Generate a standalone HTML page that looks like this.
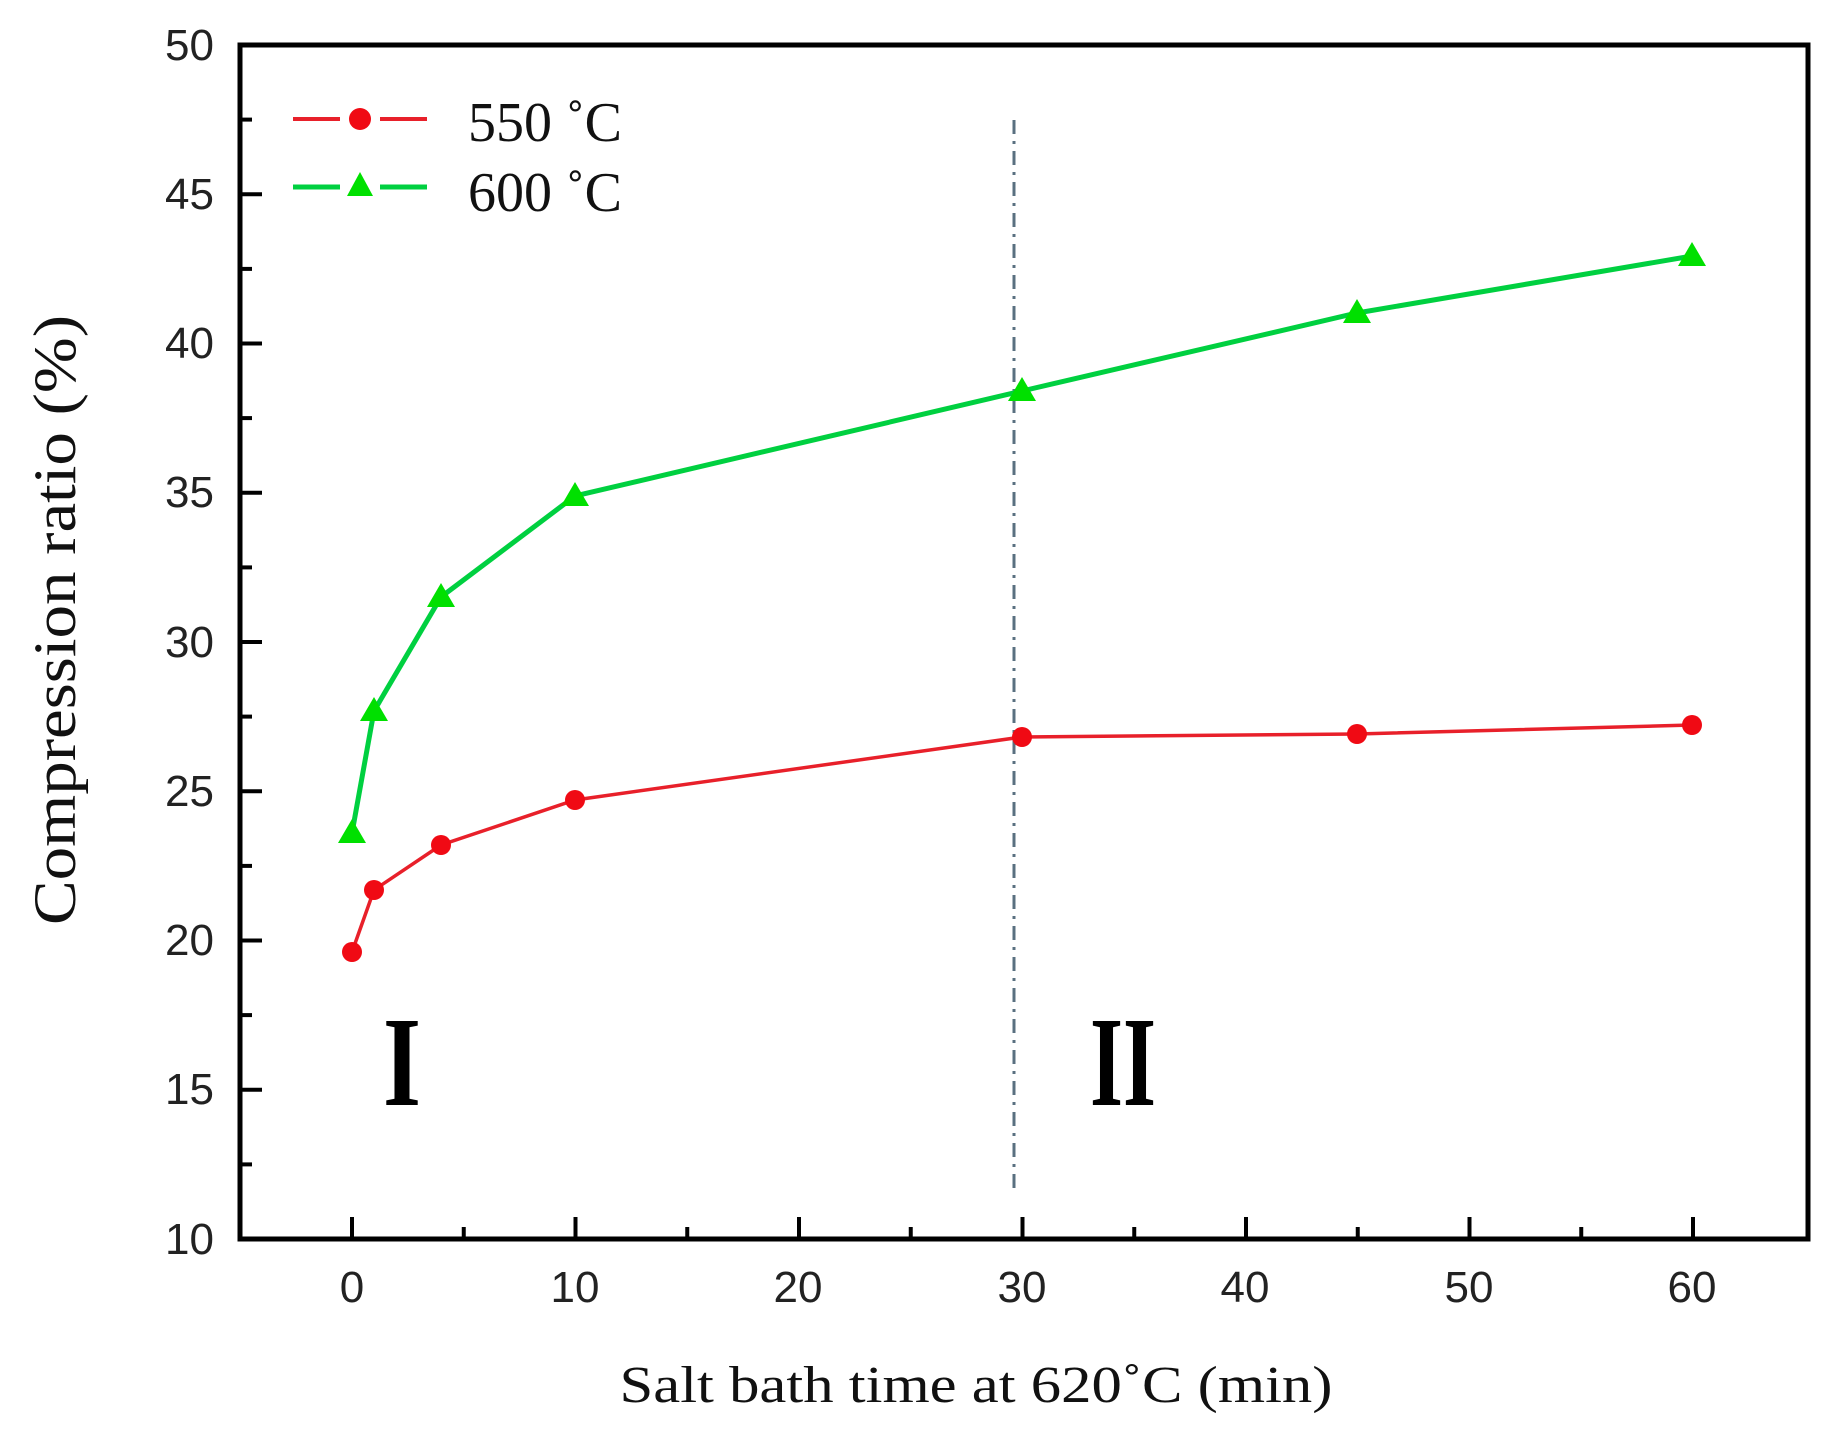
<!DOCTYPE html>
<html><head><meta charset="utf-8"><style>html,body{margin:0;padding:0;background:#fff}svg{display:block}</style></head>
<body>
<svg width="1839" height="1441" viewBox="0 0 1839 1441" xmlns="http://www.w3.org/2000/svg">
<rect width="1839" height="1441" fill="#fff"/>
<g stroke="#000" stroke-width="4">
<line x1="240" y1="1164.4" x2="252" y2="1164.4"/><line x1="240" y1="1089.8" x2="262" y2="1089.8"/>
<line x1="240" y1="1015.1" x2="252" y2="1015.1"/><line x1="240" y1="940.5" x2="262" y2="940.5"/>
<line x1="240" y1="865.9" x2="252" y2="865.9"/><line x1="240" y1="791.3" x2="262" y2="791.3"/>
<line x1="240" y1="716.6" x2="252" y2="716.6"/><line x1="240" y1="642" x2="262" y2="642"/>
<line x1="240" y1="567.4" x2="252" y2="567.4"/><line x1="240" y1="492.8" x2="262" y2="492.8"/>
<line x1="240" y1="418.1" x2="252" y2="418.1"/><line x1="240" y1="343.5" x2="262" y2="343.5"/>
<line x1="240" y1="268.9" x2="252" y2="268.9"/><line x1="240" y1="194.3" x2="262" y2="194.3"/>
<line x1="240" y1="119.6" x2="252" y2="119.6"/>
<line x1="352" y1="1239" x2="352" y2="1217"/><line x1="463.75" y1="1239" x2="463.75" y2="1227"/>
<line x1="575.5" y1="1239" x2="575.5" y2="1217"/><line x1="687.25" y1="1239" x2="687.25" y2="1227"/>
<line x1="799" y1="1239" x2="799" y2="1217"/><line x1="910.75" y1="1239" x2="910.75" y2="1227"/>
<line x1="1022.5" y1="1239" x2="1022.5" y2="1217"/><line x1="1134.25" y1="1239" x2="1134.25" y2="1227"/>
<line x1="1246" y1="1239" x2="1246" y2="1217"/><line x1="1357.75" y1="1239" x2="1357.75" y2="1227"/>
<line x1="1469.5" y1="1239" x2="1469.5" y2="1217"/><line x1="1581.25" y1="1239" x2="1581.25" y2="1227"/>
<line x1="1693" y1="1239" x2="1693" y2="1217"/>
</g>
<rect x="240" y="45" width="1568" height="1194" fill="none" stroke="#000" stroke-width="5"/>
<line x1="1014" y1="120" x2="1014" y2="1195" stroke="#5a7080" stroke-width="3" stroke-dasharray="14,7,3,7"/>
<g font-family="Liberation Sans, Arial, sans-serif" font-size="44" fill="#222" text-anchor="end">
<text x="214" y="60">50</text><text x="214" y="209">45</text><text x="214" y="358">40</text><text x="214" y="507">35</text><text x="214" y="657">30</text><text x="214" y="806">25</text><text x="214" y="955">20</text><text x="214" y="1104">15</text><text x="214" y="1254">10</text>
</g>
<g font-family="Liberation Sans, Arial, sans-serif" font-size="44" fill="#222" text-anchor="middle">
<text x="352" y="1302">0</text><text x="575" y="1302">10</text><text x="798" y="1302">20</text><text x="1022" y="1302">30</text><text x="1245" y="1302">40</text><text x="1469" y="1302">50</text><text x="1692" y="1302">60</text>
</g>
<text x="976" y="1402" font-family="Liberation Serif, serif" font-size="52" text-anchor="middle" textLength="713" lengthAdjust="spacingAndGlyphs" fill="#111">Salt bath time at 620˚C (min)</text>
<text transform="translate(75,620) rotate(-90)" font-family="Liberation Serif, serif" font-size="60" text-anchor="middle" textLength="610" lengthAdjust="spacingAndGlyphs" fill="#111">Compression  ratio (%)</text>
<text x="383" y="1105" font-family="Liberation Serif, serif" font-weight="bold" font-size="128" textLength="38" lengthAdjust="spacingAndGlyphs">I</text>
<text x="1090" y="1105" font-family="Liberation Serif, serif" font-weight="bold" font-size="128" textLength="66" lengthAdjust="spacingAndGlyphs">II</text>
<polyline fill="none" stroke="#e8202a" stroke-width="3.5" points="352,952 374,890 441,845 575,800 1022,737 1357,734 1692,725"/>
<g fill="#f00a14"><circle cx="352" cy="952" r="10"/><circle cx="374" cy="890" r="10"/><circle cx="441" cy="845" r="10"/><circle cx="575" cy="800" r="10"/><circle cx="1022" cy="737" r="10"/><circle cx="1357" cy="734" r="10"/><circle cx="1692" cy="725" r="10"/></g>
<polyline fill="none" stroke="#00d040" stroke-width="5" points="352,833 374,711 441,597 575,496 1022,391 1357,313 1692,256"/>
<g fill="#00e000">
<polygon points="352,819 338,843 366,843"/><polygon points="374,697 360,721 388,721"/>
<polygon points="441,583 427,607 455,607"/><polygon points="575,482 561,506 589,506"/>
<polygon points="1022,377 1008,401 1036,401"/><polygon points="1357,299 1343,323 1371,323"/>
<polygon points="1692,242 1678,266 1706,266"/>
</g>
<line x1="293" y1="119" x2="340" y2="119" stroke="#e8202a" stroke-width="4"/><line x1="380" y1="119" x2="427" y2="119" stroke="#e8202a" stroke-width="4"/>
<circle cx="360" cy="119" r="11" fill="#f00a14"/>
<line x1="293" y1="187" x2="340" y2="187" stroke="#00d040" stroke-width="5"/><line x1="380" y1="187" x2="427" y2="187" stroke="#00d040" stroke-width="5"/>
<polygon points="360,172 347,196 373,196" fill="#00e000"/>
<g font-family="Liberation Serif, serif" font-size="56" fill="#111"><text x="468" y="141">550 ˚C</text><text x="468" y="211">600 ˚C</text></g>
</svg>
</body></html>
